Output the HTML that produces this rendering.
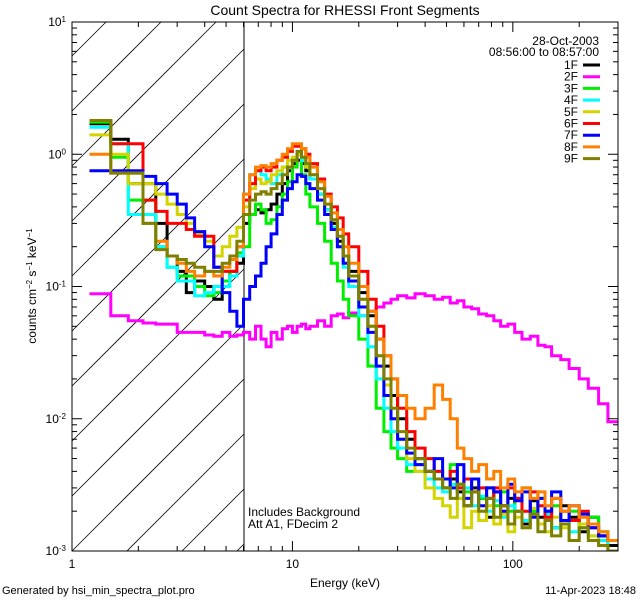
<!DOCTYPE html>
<html><head><meta charset="utf-8"><style>
html,body{margin:0;padding:0;background:#fff;width:640px;height:600px;overflow:hidden;}
svg{display:block;font-family:"Liberation Sans",sans-serif;}
</style></head><body>
<svg id="chart" width="640" height="600" viewBox="0 0 640 600" xmlns="http://www.w3.org/2000/svg">
<defs><clipPath id="plotclip"><rect x="72" y="22" width="546" height="529"/></clipPath></defs>
<rect width="640" height="600" fill="#fff"/>
<text x="345" y="15" font-size="14" text-anchor="middle">Count Spectra for RHESSI Front Segments</text>
<g id="hatch"></g>
<line x1="244" y1="22" x2="244" y2="551" stroke="#000" stroke-width="1"/>
<g id="series" clip-path="url(#plotclip)"></g>
<rect x="72" y="22" width="546" height="529" fill="none" stroke="#000" stroke-width="1"/>
<g id="axes"></g>
<text x="345" y="587" font-size="12" text-anchor="middle">Energy (keV)</text>
<text transform="translate(36,286) rotate(-90)" font-size="12" text-anchor="middle">counts cm<tspan baseline-shift="super" font-size="8">−2</tspan> s<tspan baseline-shift="super" font-size="8">−1</tspan> keV<tspan baseline-shift="super" font-size="8">−1</tspan></text>
<text x="248" y="516" font-size="12">Includes Background</text>
<text x="248" y="528" font-size="12">Att A1, FDecim 2</text>
<text x="599" y="45" font-size="12" text-anchor="end">28-Oct-2003</text>
<text x="599" y="56" font-size="12" text-anchor="end">08:56:00 to 08:57:00</text>
<g id="legend"></g>
<text x="2" y="594" font-size="11">Generated by hsi_min_spectra_plot.pro</text>
<text x="636" y="594" font-size="11" text-anchor="end">11-Apr-2023 18:48</text>
</svg>
<script>
const edges=[1.2,1.5,1.8,2.1,2.4,2.7,3.0,3.3,3.6,4.0,4.4,4.8,5.2,5.6,6.0,6.4,6.8,7.2,7.6,8,8.5,9,9.5,10,10.5,11,11.5,12,13,14,15,16,17,18,20,22,24,26,28,30,33,36,40,44,48,52,56,60,65,70,76,82,88,95,102,110,120,130,140,150,165,180,200,220,245,270,300];
const seriesNames=["1F","2F","3F","4F","5F","6F","7F","8F","9F"];
const seriesColors=["#000000","#ff00ff","#00ee00","#00ffff","#d4d400","#ff0000","#0000ff","#ff8000","#808000"];
const s1F=[1.7,1.3,0.6,0.6,0.3,0.17,0.13,0.09,0.11,0.1,0.08,0.11,0.13,0.15,0.3,0.35,0.38,0.36,0.38,0.42,0.5,0.6,0.75,0.85,0.9,0.85,0.75,0.65,0.5,0.38,0.3,0.22,0.17,0.13,0.09,0.06,0.04,0.025,0.015,0.01,0.007,0.005,0.004,0.0035,0.003,0.0035,0.0028,0.0022,0.003,0.0025,0.0018,0.0028,0.0022,0.0025,0.002,0.0016,0.0024,0.0018,0.002,0.0015,0.0022,0.0018,0.0014,0.0018,0.0013,0.0011];
const s2F=[0.088,0.06,0.055,0.053,0.052,0.052,0.045,0.045,0.045,0.043,0.042,0.045,0.042,0.043,0.045,0.04,0.05,0.04,0.035,0.045,0.04,0.048,0.05,0.045,0.05,0.052,0.048,0.05,0.055,0.05,0.06,0.062,0.058,0.063,0.06,0.065,0.07,0.075,0.08,0.085,0.082,0.088,0.085,0.08,0.083,0.075,0.078,0.07,0.068,0.062,0.06,0.055,0.05,0.052,0.045,0.04,0.042,0.036,0.035,0.03,0.028,0.024,0.02,0.017,0.013,0.0095];
const s3F=[1.75,0.95,0.45,0.45,0.2,0.14,0.12,0.12,0.1,0.085,0.09,0.11,0.13,0.18,0.2,0.35,0.42,0.38,0.3,0.32,0.4,0.5,0.62,0.8,1.0,0.7,0.5,0.4,0.3,0.22,0.15,0.11,0.08,0.06,0.04,0.025,0.012,0.008,0.006,0.005,0.004,0.0045,0.0035,0.004,0.003,0.0045,0.0032,0.0028,0.0035,0.0025,0.003,0.0022,0.0028,0.002,0.0025,0.003,0.002,0.0025,0.0018,0.0022,0.0016,0.002,0.0015,0.0018,0.0014,0.0012];
const s4F=[1.6,1.2,0.35,0.35,0.2,0.14,0.11,0.11,0.085,0.09,0.1,0.1,0.12,0.17,0.5,0.7,0.75,0.7,0.65,0.6,0.7,0.8,0.9,0.95,1.0,0.9,0.8,0.65,0.5,0.38,0.28,0.2,0.14,0.1,0.06,0.035,0.02,0.012,0.008,0.006,0.0045,0.004,0.0035,0.003,0.0028,0.0032,0.0025,0.003,0.0022,0.0026,0.002,0.0024,0.0018,0.0022,0.002,0.0017,0.0021,0.0016,0.0019,0.0015,0.0017,0.0014,0.0016,0.0013,0.0012,0.001];
const s5F=[1.4,1.0,0.6,0.6,0.5,0.42,0.35,0.3,0.25,0.22,0.17,0.2,0.24,0.28,0.4,0.55,0.65,0.6,0.62,0.7,0.75,0.8,0.9,0.95,1.0,0.95,0.8,0.7,0.55,0.42,0.32,0.24,0.17,0.12,0.08,0.05,0.03,0.018,0.01,0.007,0.005,0.004,0.003,0.0025,0.0022,0.0018,0.0025,0.0015,0.002,0.0017,0.0022,0.0016,0.0019,0.0014,0.0018,0.0015,0.0021,0.0016,0.0014,0.0018,0.0015,0.0012,0.0016,0.0013,0.0011,0.001];
const s6F=[1.8,1.2,1.2,0.45,0.37,0.3,0.3,0.27,0.24,0.24,0.14,0.13,0.13,0.2,0.45,0.6,0.75,0.8,0.75,0.8,0.9,0.95,1.05,1.15,1.15,1.1,1.0,0.85,0.65,0.5,0.4,0.33,0.25,0.2,0.13,0.08,0.05,0.03,0.02,0.012,0.008,0.006,0.005,0.004,0.0035,0.004,0.003,0.0035,0.0028,0.003,0.0025,0.003,0.0022,0.003,0.0025,0.002,0.0028,0.0022,0.0018,0.0025,0.002,0.0017,0.002,0.0015,0.0013,0.0012];
const s7F=[0.75,0.75,0.75,0.68,0.6,0.5,0.42,0.33,0.26,0.2,0.14,0.09,0.065,0.05,0.08,0.1,0.12,0.15,0.2,0.25,0.35,0.45,0.55,0.62,0.7,0.68,0.6,0.55,0.45,0.35,0.27,0.2,0.15,0.11,0.07,0.045,0.025,0.015,0.01,0.007,0.0055,0.0045,0.004,0.005,0.0035,0.003,0.0045,0.0025,0.0035,0.0022,0.003,0.0028,0.002,0.0032,0.0024,0.0028,0.0018,0.0025,0.002,0.0028,0.0017,0.0022,0.0019,0.0015,0.0013,0.0012];
const s8F=[1.0,0.72,0.72,0.3,0.22,0.17,0.15,0.13,0.12,0.13,0.12,0.14,0.16,0.2,0.5,0.7,0.8,0.82,0.8,0.85,0.9,1.0,1.1,1.2,1.2,1.1,0.95,0.8,0.62,0.48,0.36,0.27,0.2,0.15,0.1,0.065,0.04,0.03,0.02,0.015,0.012,0.01,0.012,0.018,0.014,0.01,0.006,0.005,0.004,0.0045,0.0035,0.004,0.003,0.0035,0.0028,0.003,0.0025,0.0028,0.0022,0.0025,0.002,0.0022,0.0018,0.0016,0.0014,0.0012];
const s9F=[1.8,0.72,0.72,0.3,0.19,0.17,0.16,0.15,0.14,0.13,0.13,0.15,0.17,0.22,0.35,0.45,0.5,0.52,0.5,0.55,0.6,0.7,0.8,0.9,1.05,0.95,0.85,0.7,0.55,0.42,0.32,0.24,0.17,0.12,0.08,0.05,0.03,0.02,0.012,0.008,0.006,0.005,0.004,0.0035,0.003,0.0025,0.0032,0.0022,0.0028,0.002,0.0025,0.0018,0.0022,0.0016,0.002,0.0015,0.0019,0.0014,0.0017,0.0013,0.0016,0.0012,0.0015,0.0012,0.0011,0.001];
const seriesValues=[s1F,s2F,s3F,s4F,s5F,s6F,s7F,s8F,s9F];
const xTickValues=[1,10,100];
const xTickLabels=["1","10","100"];
const yTickExps=[-3,-2,-1,0,1];

const NS="http://www.w3.org/2000/svg";
const X0=72,X1=618,Y0=22,Y1=551,XH=244;
const xMin=0,xMax=Math.log10(300),yMin=-3,yMax=1;
function xs(e){return X0+(Math.log10(e)-xMin)/(xMax-xMin)*(X1-X0);}
function ys(v){return Y1-(Math.log10(v)-yMin)/(yMax-yMin)*(Y1-Y0);}
function mk(tag,attrs,parent){const el=document.createElementNS(NS,tag);for(const k in attrs)el.setAttribute(k,attrs[k]);parent.appendChild(el);return el;}

const hatch=document.getElementById('hatch');
for(let b=Y1+165;b>Y0;b-=55){
  let sx=X0,sy=b;
  if(sy>Y1){sx=X0+(sy-Y1);sy=Y1;}
  let ex=XH,ey=b-(XH-X0);
  if(ey<Y0){ex=X0+(b-Y0);ey=Y0;}
  if(sx>=XH||ex<=sx)continue;
  const ln=mk('line',{x1:sx,y1:sy,x2:ex,y2:ey,stroke:'#000','stroke-width':0.8},hatch);
  
  
}

const sg=document.getElementById('series');
seriesValues.forEach((vals,si)=>{
  let d='';
  for(let i=0;i<vals.length;i++){
    const xa=xs(edges[i]),xb=Math.min(xs(edges[i+1]),X1),y=ys(vals[i]);
    d+=(i===0?'M':'L')+xa.toFixed(1)+','+y.toFixed(1)+'L'+xb.toFixed(1)+','+y.toFixed(1);
  }
  const p=mk('path',{d:d,fill:'none',stroke:seriesColors[si],'stroke-width':3,'stroke-linejoin':'miter'},sg);
  
  
});

const ax=document.getElementById('axes');
for(let dec=0;dec<3;dec++){
  for(let m=1;m<10;m++){
    const e=m*Math.pow(10,dec); if(e>300)break;
    const x=xs(e),len=(m===1)?10:5;
    const t1=mk('line',{x1:x,y1:Y1,x2:x,y2:Y1-len,stroke:'#000'},ax);
    
    
    const t2=mk('line',{x1:x,y1:Y0,x2:x,y2:Y0+len,stroke:'#000'},ax);
    
    
  }
}
xTickValues.forEach((v,i)=>{
  const t=mk('text',{x:xs(v),y:Y1+17,'font-size':12,'text-anchor':'middle'},ax);
  t.textContent=xTickLabels[i];
  
  
});
yTickExps.forEach(ex=>{
  for(let m=1;m<10;m++){
    const v=m*Math.pow(10,ex); if(Math.log10(v)>yMax+1e-9)break;
    const y=ys(v),len=(m===1)?10:5;
    const t1=mk('line',{x1:X0,y1:y,x2:X0+len,y2:y,stroke:'#000'},ax);
    
    
    const t2=mk('line',{x1:X1,y1:y,x2:X1-len,y2:y,stroke:'#000'},ax);
    
    
  }
  const t=mk('text',{x:X0-6,y:ys(Math.pow(10,ex))+4,'font-size':12,'text-anchor':'end'},ax);
  t.innerHTML='10<tspan baseline-shift="super" font-size="8">'+ex+'</tspan>';
  
  
});

const lg=document.getElementById('legend');
seriesNames.forEach((n,i)=>{
  const y=65+i*11.7;
  const t=mk('text',{x:578,y:y+4,'font-size':12,'text-anchor':'end'},lg);
  t.textContent=n;
  
  
  const l=mk('line',{x1:583,y1:y,x2:600,y2:y,stroke:seriesColors[i],'stroke-width':3},lg);
  
  
});
</script>
</body></html>
